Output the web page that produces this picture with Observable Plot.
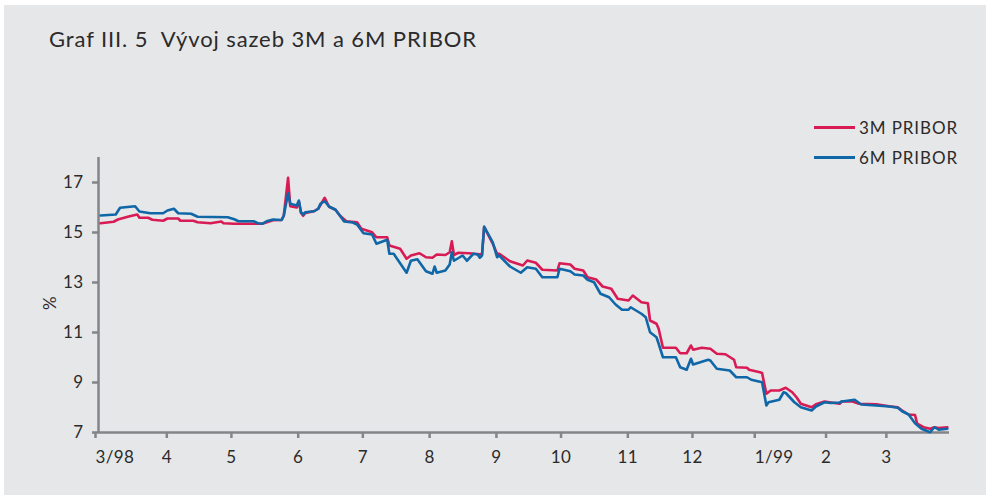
<!DOCTYPE html>
<html><head><meta charset="utf-8">
<script src="https://cdn.jsdelivr.net/npm/d3@7"></script>
<script src="https://cdn.jsdelivr.net/npm/@observablehq/plot@0.6"></script>
<style>
body{margin:0;background:#fff;}
#page{position:relative;width:986px;height:495px;background:#fff;overflow:hidden;font-family:Lato,"Open Sans",sans-serif;color:#2b2b2b}
#bg{position:absolute;left:4px;top:5px;right:0;bottom:0;background:#e6e7e9}
#title{position:absolute;left:49px;top:28px;font-size:22px;letter-spacing:0.9px;white-space:pre;line-height:22px}
#chart{position:absolute;left:0;top:100px}
#legend{position:absolute;left:814px;top:112px;font-size:17px;letter-spacing:0.9px}
.item{display:flex;align-items:center;height:30px}
.sw{width:41px;height:3px;margin-right:4px}
</style></head>
<body>
<div id="page">
  <div id="bg"></div>
  <div id="title">Graf III. 5  Vývoj sazeb 3M a 6M PRIBOR</div>
  <div id="chart"></div>
  <div id="legend"></div>
</div>
<script>
const seriesNames = ["3M PRIBOR", "6M PRIBOR"];
const seriesColors = ["#d81b55", "#0f67a8"];

const dates3m = ["1998-03-02","1998-03-08","1998-03-10","1998-03-15","1998-03-19","1998-03-20","1998-03-24","1998-03-26","1998-03-31","1998-04-02","1998-04-07","1998-04-08","1998-04-14","1998-04-16","1998-04-22","1998-04-27","1998-04-28","1998-05-03","1998-05-16","1998-05-21","1998-05-25","1998-05-26","1998-05-28","1998-05-29","1998-06-01","1998-06-02","1998-06-03","1998-06-04","1998-06-05","1998-06-09","1998-06-11","1998-06-14","1998-06-16","1998-06-19","1998-06-21","1998-06-24","1998-06-29","1998-07-01","1998-07-06","1998-07-08","1998-07-13","1998-07-14","1998-07-19","1998-07-22","1998-07-24","1998-07-28","1998-07-31","1998-08-03","1998-08-05","1998-08-09","1998-08-11","1998-08-12","1998-08-13","1998-08-15","1998-08-20","1998-08-26","1998-08-27","1998-08-31","1998-09-02","1998-09-03","1998-09-08","1998-09-14","1998-09-16","1998-09-20","1998-09-23","1998-09-30","1998-10-01","1998-10-06","1998-10-08","1998-10-12","1998-10-14","1998-10-18","1998-10-21","1998-10-25","1998-10-28","1998-11-02","1998-11-04","1998-11-08","1998-11-11","1998-11-12","1998-11-15","1998-11-16","1998-11-18","1998-11-24","1998-11-26","1998-11-29","1998-12-01","1998-12-02","1998-12-06","1998-12-10","1998-12-13","1998-12-17","1998-12-21","1998-12-22","1998-12-27","1998-12-28","1999-01-02","1999-01-03","1999-01-05","1999-01-07","1999-01-11","1999-01-14","1999-01-17","1999-01-19","1999-01-21","1999-01-26","1999-01-28","1999-02-01","1999-02-04","1999-02-08","1999-02-09","1999-02-14","1999-02-17","1999-02-25","1999-03-03","1999-03-07","1999-03-09","1999-03-12","1999-03-15","1999-03-16","1999-03-19","1999-03-22","1999-03-24","1999-03-26","1999-03-30"];
const pribor3m = [15.37,15.43,15.52,15.64,15.72,15.59,15.59,15.51,15.47,15.56,15.56,15.47,15.47,15.41,15.37,15.44,15.37,15.35,15.35,15.49,15.50,15.67,17.19,16.05,16.00,16.23,15.78,15.67,15.78,15.85,15.95,16.39,16.03,15.91,15.68,15.45,15.41,15.15,15.01,14.81,14.81,14.48,14.35,13.95,14.08,14.17,14.01,13.99,14.12,14.10,14.21,14.65,14.10,14.19,14.17,14.12,15.21,14.55,14.15,14.15,13.85,13.68,13.88,13.79,13.51,13.48,13.77,13.72,13.55,13.48,13.21,13.12,12.84,12.75,12.35,12.28,12.48,12.21,12.17,11.48,11.35,11.15,10.39,10.39,10.17,10.17,10.48,10.31,10.39,10.35,10.15,10.13,9.91,9.61,9.59,9.51,9.41,9.38,8.55,8.68,8.68,8.79,8.61,8.41,8.15,8.01,8.13,8.24,8.20,8.15,8.24,8.24,8.15,8.13,8.05,8.01,7.88,7.72,7.70,7.35,7.21,7.15,7.21,7.18,7.21];

const dates6m = ["1998-03-02","1998-03-09","1998-03-11","1998-03-18","1998-03-20","1998-03-25","1998-03-31","1998-04-02","1998-04-05","1998-04-07","1998-04-13","1998-04-16","1998-04-30","1998-05-03","1998-05-05","1998-05-12","1998-05-14","1998-05-16","1998-05-18","1998-05-21","1998-05-25","1998-05-26","1998-05-28","1998-05-29","1998-06-01","1998-06-02","1998-06-03","1998-06-04","1998-06-05","1998-06-09","1998-06-11","1998-06-12","1998-06-14","1998-06-16","1998-06-19","1998-06-21","1998-06-23","1998-06-27","1998-06-29","1998-07-02","1998-07-06","1998-07-08","1998-07-13","1998-07-14","1998-07-16","1998-07-22","1998-07-24","1998-07-27","1998-07-31","1998-08-03","1998-08-04","1998-08-05","1998-08-09","1998-08-11","1998-08-12","1998-08-13","1998-08-17","1998-08-19","1998-08-22","1998-08-24","1998-08-25","1998-08-26","1998-08-27","1998-08-31","1998-09-02","1998-09-03","1998-09-08","1998-09-13","1998-09-16","1998-09-20","1998-09-23","1998-09-30","1998-10-01","1998-10-06","1998-10-08","1998-10-12","1998-10-14","1998-10-17","1998-10-20","1998-10-24","1998-10-27","1998-10-30","1998-11-02","1998-11-03","1998-11-08","1998-11-10","1998-11-12","1998-11-15","1998-11-16","1998-11-18","1998-11-24","1998-11-26","1998-11-29","1998-12-01","1998-12-02","1998-12-09","1998-12-10","1998-12-13","1998-12-19","1998-12-22","1998-12-27","1998-12-29","1999-01-03","1999-01-05","1999-01-06","1999-01-11","1999-01-13","1999-01-14","1999-01-18","1999-01-21","1999-01-26","1999-01-28","1999-02-01","1999-02-04","1999-02-08","1999-02-09","1999-02-15","1999-02-18","1999-02-25","1999-03-03","1999-03-07","1999-03-09","1999-03-12","1999-03-15","1999-03-18","1999-03-22","1999-03-24","1999-03-26","1999-03-30"];
const pribor6m = [15.68,15.72,15.99,16.05,15.84,15.77,15.77,15.88,15.95,15.77,15.75,15.63,15.61,15.53,15.45,15.45,15.37,15.35,15.45,15.52,15.50,15.68,16.57,16.15,16.08,16.28,15.81,15.72,15.81,15.85,15.95,16.15,16.25,16.04,15.91,15.68,15.44,15.40,15.32,14.97,14.92,14.55,14.71,14.15,14.15,13.39,13.87,13.93,13.45,13.35,13.64,13.39,13.48,13.72,14.21,13.87,14.08,13.87,14.15,14.12,13.99,14.08,15.24,14.61,14.01,14.08,13.64,13.39,13.61,13.55,13.21,13.21,13.55,13.45,13.32,13.28,13.11,13.01,12.55,12.41,12.12,11.91,11.91,12.01,11.75,11.61,11.01,10.81,10.55,10.01,10.01,9.61,9.51,9.95,9.72,9.91,9.88,9.55,9.48,9.21,9.21,9.11,9.01,8.08,8.21,8.31,8.61,8.58,8.21,8.01,7.88,8.04,8.21,8.18,8.20,8.24,8.31,8.12,8.08,8.04,7.99,7.85,7.72,7.37,7.15,7.01,7.21,7.11,7.15];

const xTickDates = ["1998-03-01","1998-04-01","1998-05-01","1998-06-01","1998-07-01","1998-08-01","1998-09-01","1998-10-01","1998-11-01","1998-12-01","1999-01-01","1999-02-01","1999-03-01"];
const xTickLabels = ["3/98","4","5","6","7","8","9","10","11","12","1/99","2","3"];
const yTicks = [7, 9, 11, 13, 15, 17];
const xDomain = ["1998-03-01", "1999-03-31"];
const yDomain = [7, 18];
const yLabel = "%";
const yLabelAt = 11.9;

const parse = d3.utcParse("%Y-%m-%d");
const rows3 = dates3m.map((d, i) => ({date: parse(d), value: pribor3m[i]}));
const rows6 = dates6m.map((d, i) => ({date: parse(d), value: pribor6m[i]}));
const tickDates = xTickDates.map(parse);
const labelOf = new Map(tickDates.map((d, i) => [+d, xTickLabels[i]]));
const yearTicks = tickDates.filter((d, i) => xTickLabels[i].includes("/"));
const monthTicks = tickDates.filter((d, i) => !xTickLabels[i].includes("/"));

const axisColor = "#838588";
const textColor = "#2b2b2b";

const chart = Plot.plot({
  width: 986, height: 395,
  marginLeft: 98, marginRight: 37, marginTop: 57, marginBottom: 63,
  style: {background: "transparent", fontFamily: "Lato, 'Open Sans', sans-serif", fontSize: "17px", letterSpacing: "0.4px", color: textColor, overflow: "visible"},
  x: {type: "utc", domain: xDomain.map(parse)},
  y: {domain: yDomain},
  marks: [
    Plot.axisY(yTicks, {tickSize: 6, tickPadding: 9, stroke: axisColor, strokeWidth: 2.5, fill: textColor, label: null, fontSize: 17}),
    Plot.axisX(monthTicks, {tickSize: 6, tickPadding: 12, stroke: axisColor, strokeWidth: 2.5, fill: textColor, label: null, fontSize: 17, dx: 1.5, tickFormat: d => labelOf.get(+d)}),
    Plot.axisX(yearTicks, {tickSize: 6, tickPadding: 12, stroke: axisColor, strokeWidth: 2.5, fill: textColor, label: null, fontSize: 17, textAnchor: "start", dx: -3, tickFormat: d => labelOf.get(+d)}),
    Plot.ruleY([yDomain[0]], {stroke: axisColor, strokeWidth: 2.5}),
    Plot.ruleX([parse(xDomain[0])], {y1: yDomain[0], y2: yDomain[1], stroke: axisColor, strokeWidth: 2.5}),
    Plot.text([yLabel], {text: d => d, y: () => yLabelAt, frameAnchor: "left", dx: -48, rotate: -90, fontSize: 17, fill: textColor}),
    Plot.line(rows3, {x: "date", y: "value", stroke: seriesColors[0], strokeWidth: 2.6, strokeLinejoin: "round"}),
    Plot.line(rows6, {x: "date", y: "value", stroke: seriesColors[1], strokeWidth: 2.6, strokeLinejoin: "round"})
  ]
});
document.getElementById("chart").appendChild(chart);

const legend = document.getElementById("legend");
seriesNames.forEach((name, i) => {
  const item = document.createElement("div");
  item.className = "item";
  const sw = document.createElement("span");
  sw.className = "sw";
  sw.style.background = seriesColors[i];
  const lab = document.createElement("span");
  lab.textContent = name;
  item.appendChild(sw);
  item.appendChild(lab);
  legend.appendChild(item);
});
</script>
</body></html>
